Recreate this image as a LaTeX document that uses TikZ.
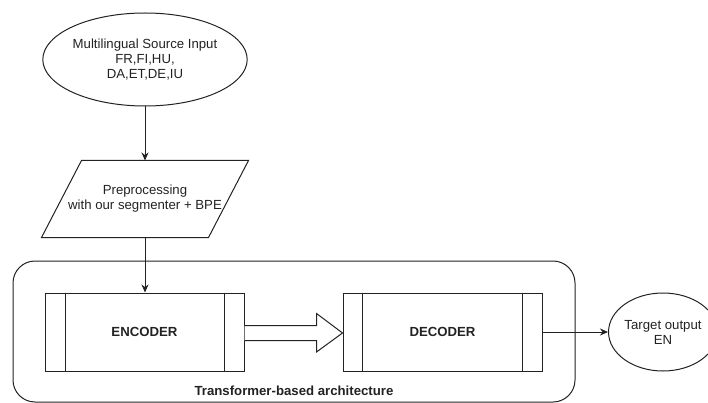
\documentclass[tikz,border=0pt]{standalone}
\usepackage{fontspec}
\setmainfont{Liberation Sans}
\usetikzlibrary{shapes.geometric,arrows.meta,calc}
\definecolor{ink}{HTML}{222222}
\tikzset{
  base/.style={draw=ink, line width=1pt, text=ink, font=\fontsize{13.2}{15}\selectfont, align=center, inner sep=0pt},
  oval/.style={base, ellipse},
  procbox/.style={base, rectangle, minimum width=199pt, minimum height=78pt, font=\fontsize{13.2}{15}\selectfont\bfseries},
  conn/.style={draw=ink, line width=1pt, -{Stealth[length=8pt,width=7pt]}},
  outline/.style={draw=ink, line width=1pt},
}
\begin{document}
\begin{tikzpicture}[x=1pt,y=-1pt]
\useasboundingbox (0,0) rectangle (708,403);
\clip (0,0) rectangle (708,403);
% container
\node[outline, rounded corners=22pt, minimum width=562pt, minimum height=141pt, inner sep=0pt] (arch) at (294,331.5) {};
\node[text=ink, font=\fontsize{13.2}{15}\selectfont\bfseries, inner sep=0pt] (archlbl) at (294,391) {Transformer-based architecture};
% input
\node[oval, minimum width=174pt, minimum height=93pt] (src) at (145,59.5) {Multilingual Source Input\\FR,FI,HU,\\DA,ET,DE,IU};
% preprocessing parallelogram
\node[base, draw=none, minimum width=166pt, minimum height=76pt] (pre) at (145,199) {Preprocessing\\with our segmenter + BPE};
\draw[outline] ($(pre.north west)+(20,0)$) -- ($(pre.north east)+(20,0)$) -- ($(pre.south east)+(-20,0)$) -- ($(pre.south west)+(-20,0)$) -- cycle;
% encoder / decoder
\node[procbox] (enc) at (144.5,332) {ENCODER};
\draw[outline] ($(enc.north west)+(21,0)$) -- ($(enc.south west)+(21,0)$);
\draw[outline] ($(enc.north east)+(-20,0)$) -- ($(enc.south east)+(-20,0)$);
\node[procbox] (dec) at (442.5,332) {DECODER};
\draw[outline] ($(dec.north west)+(20,0)$) -- ($(dec.south west)+(20,0)$);
\draw[outline] ($(dec.north east)+(-20,0)$) -- ($(dec.south east)+(-20,0)$);
% target
\node[oval, minimum width=92pt, minimum height=78pt] (tgt) at (663,332) {Target output\\EN};
% connectors
\draw[conn] (src.south) -- (src.south |- pre.north);
\draw[conn] (pre.south) -- (pre.south |- enc.north);
\draw[conn] (dec.east) -- (tgt.west);
% hollow arrow
\coordinate (hs) at (enc.east);
\coordinate (ht) at (dec.west);
\draw[outline, fill=white, line join=miter]
  ($(hs)+(0,-6.5)$) -- ($(ht)+(-26,-6.5)$) -- ($(ht)+(-26,-18.5)$) -- ($(ht)+(0,1)$)
  -- ($(ht)+(-26,20)$) -- ($(ht)+(-26,8.5)$) -- ($(hs)+(0,8.5)$);
\end{tikzpicture}
\end{document}
